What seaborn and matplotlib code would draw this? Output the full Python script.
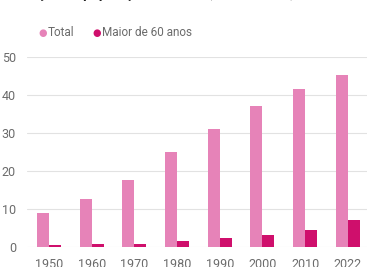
import pandas as pd
import matplotlib.pyplot as plt
import seaborn as sns

# Data (values in millions)
YEARS = ["1950", "1960", "1970", "1980", "1990", "2000", "2010", "2022"]
TOTAL = [9.0, 12.7, 17.6, 25.1, 31.0, 37.0, 41.6, 45.3]
OVER_60 = [0.4, 0.7, 0.9, 1.6, 2.3, 3.2, 4.6, 7.1]
SERIES = ["Total", "Maior de 60 anos"]
COLORS = ["#e683b8", "#cf0f6c"]
GRAY = "#6b6b6b"

df = pd.DataFrame({
    "ano": YEARS * 2,
    "valor": TOTAL + OVER_60,
    "serie": [SERIES[0]] * len(YEARS) + [SERIES[1]] * len(YEARS),
})

sns.set_style("white")
plt.rcParams["font.family"] = ["Roboto", "DejaVu Sans"]

fig = plt.figure(figsize=(3.69, 2.67), dpi=100)
ax = fig.add_axes([27 / 369, 20 / 267, 340 / 369, 190 / 267])

sns.barplot(data=df, x="ano", y="valor", hue="serie", palette=COLORS,
            width=0.56, gap=0, saturation=1, linewidth=0, ax=ax, legend=False)

ax.set_ylim(0, 50)
ax.set_xlim(-0.515, 7.45)
ax.set_yticks([0, 10, 20, 30, 40, 50])
ax.grid(axis="y", color="#e2e2e2", linewidth=0.8)
ax.set_axisbelow(True)
sns.despine(ax=ax, left=True, bottom=True)
ax.tick_params(axis="both", length=0, labelsize=9, labelcolor=GRAY)
ax.tick_params(axis="y", pad=8)
ax.tick_params(axis="x", pad=8)
ax.set_xlabel("")
ax.set_ylabel("")

# Legend as a row of dots above the plot
ly = 1 - 33 / 267
fig.text(43 / 369, ly, "\u25CF", color=COLORS[0], fontsize=7, va="center", ha="center")
fig.text(48 / 369, ly, SERIES[0], color=GRAY, fontsize=8.5, va="center", ha="left")
fig.text(97 / 369, ly, "\u25CF", color=COLORS[1], fontsize=7, va="center", ha="center")
fig.text(102 / 369, ly, SERIES[1], color=GRAY, fontsize=8.5, va="center", ha="left")

# Title cut off by the top edge, as in the source
fig.text(4 / 369, 1 + 2 / 267, "Evolução da população brasileira, em milhões, 1950 a 2022",
         color="#222222", fontsize=10, fontweight="bold", va="baseline", ha="left")

fig.savefig("out.png", dpi=100)
